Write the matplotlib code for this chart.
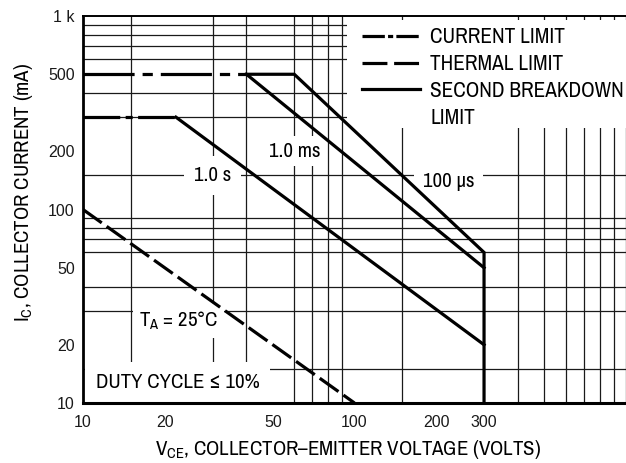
import matplotlib
matplotlib.use('Agg')
import matplotlib.pyplot as plt
from matplotlib.ticker import FixedLocator, FixedFormatter, NullFormatter
from matplotlib.lines import Line2D
from matplotlib.patches import Rectangle

plt.rcParams['font.family'] = ['Liberation Sans', 'DejaVu Sans']
plt.rcParams['mathtext.fontset'] = 'custom'
plt.rcParams['mathtext.rm'] = 'Archivo Narrow'
plt.rcParams['mathtext.it'] = 'Archivo Narrow'
NARROW = ['Archivo Narrow', 'Liberation Sans', 'DejaVu Sans']

# safe operating area data
v_cur_500 = [10, 40]
i_cur_500 = [500, 500]
v_cur_300 = [10, 22]
i_cur_300 = [300, 300]
v_thermal = [10, 100]
i_thermal = [100, 10]
v_100us = [40, 60, 300, 300]
i_100us = [500, 500, 60, 10]
v_1ms = [40, 300]
i_1ms = [500, 50]
v_1s = [22, 300]
i_1s = [300, 20]

x_ticks = [10, 20, 50, 100, 200, 300]
x_labels = ['10', '20', '50', '100', '200', '300']
y_ticks = [10, 20, 50, 100, 200, 500, 1000]
y_labels = ['10', '20', '50', '100', '200', '500', '1 k']
grid_subs = [1, 1.5, 2, 3, 4, 5, 6, 7, 8, 9]
grid_vals = [d * s for d in (10, 100) for s in grid_subs] + [1000]

fig = plt.figure(figsize=(6.26, 4.63), dpi=100)
ax = fig.add_axes([0.1326, 0.1296, 0.8674, 0.8358])
ax.set_xscale('log')
ax.set_yscale('log')
ax.set_xlim(10, 1000)
ax.set_ylim(10, 1000)

lw = 2.3
ax.plot(v_cur_500, i_cur_500, color='black', lw=lw, dashes=(16, 2.5, 3.2, 2.5), dash_capstyle='butt', zorder=3)
ax.plot(v_cur_300, i_cur_300, color='black', lw=lw, dashes=(11.5, 1.7, 2.2, 1.7), dash_capstyle='butt', zorder=3)
ax.plot(v_thermal, i_thermal, color='black', lw=lw, dashes=(7.2, 1.9), dash_capstyle='butt', zorder=3)
ax.plot(v_100us, i_100us, color='black', lw=lw, solid_joinstyle='miter', zorder=3)
ax.plot(v_1ms, i_1ms, color='black', lw=lw, zorder=3)
ax.plot(v_1s, i_1s, color='black', lw=lw, zorder=3)

ax.xaxis.set_major_locator(FixedLocator(x_ticks))
ax.xaxis.set_major_formatter(FixedFormatter(x_labels))
ax.yaxis.set_major_locator(FixedLocator(y_ticks))
ax.yaxis.set_major_formatter(FixedFormatter(y_labels))
ax.xaxis.set_minor_locator(FixedLocator(grid_vals))
ax.yaxis.set_minor_locator(FixedLocator(grid_vals))
ax.xaxis.set_minor_formatter(NullFormatter())
ax.yaxis.set_minor_formatter(NullFormatter())
ax.tick_params(which='both', length=0, labelsize=11.5, colors='#1a1a1a')
ax.tick_params(axis='x', pad=9)
ax.tick_params(axis='y', pad=6)
ax.set_axisbelow(True)
ax.grid(which='minor', color='#1a1a1a', lw=0.9)
ax.grid(which='major', visible=False)

ax.spines['right'].set_visible(False)
ax.spines['top'].set_linewidth(1.4)
ax.spines['left'].set_linewidth(2.0)
ax.spines['bottom'].set_linewidth(2.2)

fs = 15
ax.text(30, 150, '1.0 s', ha='center', va='center', fontsize=fs, family=NARROW,
        bbox=dict(facecolor='white', edgecolor='none', pad=7), zorder=2.5)
ax.text(60, 200, '1.0 ms', ha='center', va='center', fontsize=fs, family=NARROW,
        bbox=dict(facecolor='white', edgecolor='none', pad=4), zorder=2.5)
ax.text(222, 140, '100 \u00b5s', ha='center', va='center', fontsize=fs, family=NARROW,
        bbox=dict(facecolor='white', edgecolor='none', pad=6), zorder=2.5)
ax.text(22.5, 26.5, '$\\mathregular{T_A}$ = 25°C', ha='center', va='center', fontsize=fs, family=NARROW,
        bbox=dict(facecolor='white', edgecolor='none', pad=4), zorder=2.5)
ax.text(22.3, 12.7, 'DUTY CYCLE \u2264 10%', ha='center', va='center', fontsize=fs, family=NARROW,
        bbox=dict(facecolor='white', edgecolor='none', pad=8), zorder=2.5)

# white area behind the legend
ax.add_patch(Rectangle((0.4853, 0.71), 0.52, 0.2797, transform=ax.transAxes,
                       facecolor='white', edgecolor='none', zorder=2.8))
handles = [
    Line2D([], [], color='black', lw=lw, dashes=(7.0, 1, 1.6, 1), dash_capstyle='butt'),
    Line2D([], [], color='black', lw=lw, dashes=(7.8, 2.1), dash_capstyle='butt'),
    Line2D([], [], color='black', lw=lw),
    Line2D([], [], color='none', lw=lw),
]
labels = ['CURRENT LIMIT', 'THERMAL LIMIT', 'SECOND BREAKDOWN', 'LIMIT']
fs_leg = 15.3
leg = ax.legend(handles, labels, loc='upper left', bbox_to_anchor=(0.5147, 0.971),
                prop={'family': NARROW, 'size': fs_leg}, handlelength=2.69, handletextpad=0.5,
                labelspacing=0.32, borderpad=0, borderaxespad=0, frameon=False)
leg.set_zorder(5)

ax.set_ylabel('$\\mathregular{I_C}$, COLLECTOR CURRENT (mA)', fontsize=fs, family=NARROW)
ax.yaxis.set_label_coords(-0.088, 0.545)
ax.set_xlabel('$\\mathregular{V_{CE}}$, COLLECTOR\u2013EMITTER VOLTAGE (VOLTS)', fontsize=fs, family=NARROW)
ax.xaxis.set_label_coords(0.488, -0.09)

fig.savefig('out.png', dpi=100)
